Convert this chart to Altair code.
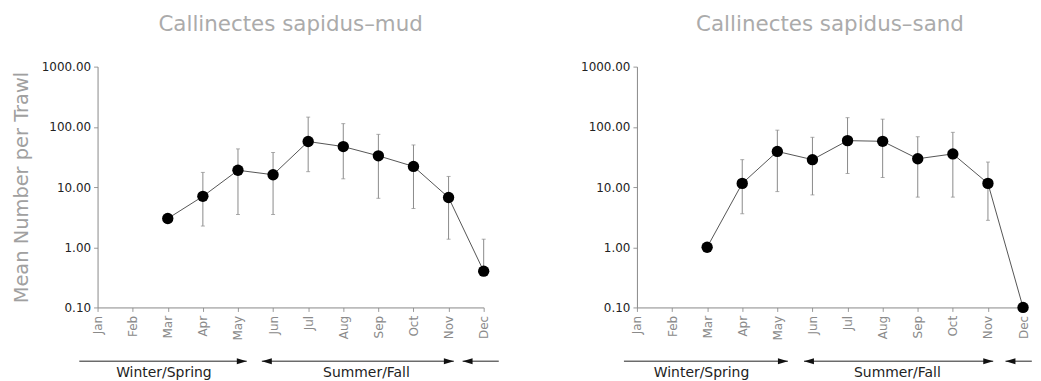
import altair as alt
import pandas as pd

months = ["Jan", "Feb", "Mar", "Apr", "May", "Jun", "Jul", "Aug", "Sep", "Oct", "Nov", "Dec"]
sampled = [2, 3, 4, 5, 6, 7, 8, 9, 10, 11]  # Mar..Dec (month index)

mud_mean = [3.0, 7.0, 19.0, 16.0, 57.0, 47.0, 33.0, 22.0, 6.7, 0.40]
mud_hi = [None, 17.5, 43.0, 37.5, 145.0, 113.0, 75.0, 50.0, 15.0, 1.36]
mud_lo = [None, 2.25, 3.5, 3.5, 18.0, 13.7, 6.5, 4.4, 1.36, 0.40]

sand_mean = [1.0, 11.5, 39.0, 28.5, 59.0, 57.5, 29.5, 35.5, 11.5, 0.10]
sand_hi = [None, 28.5, 88.0, 67.0, 142.0, 134.0, 68.5, 81.0, 26.0, None]
sand_lo = [None, 3.6, 8.4, 7.4, 16.8, 14.4, 6.8, 6.8, 2.8, None]

y_ticks = [0.1, 1, 10, 100, 1000]
month_ticks = list(range(12))

season_names = ["Winter/Spring", "Summer/Fall"]
# season arrow spans (in month-index units) per panel: start, end
mud_seg_start = [-0.52, 4.68, 10.40]
mud_seg_end = [4.25, 10.15, 11.43]
mud_label_pos = [1.89, 7.66]
sand_seg_start = [-0.37, 4.76, 10.50]
sand_seg_end = [4.30, 10.15, 11.25]
sand_label_pos = [1.84, 7.42]

FONT = "DejaVu Sans"
W, H = 388, 242
ARROW_Y = 296
LABEL_Y = 315

label_expr = "[" + ",".join("'%s'" % m for m in months) + "][datum.value]"
right_head = "M0,0L-2,-0.6L-2,0.6Z"
left_head = "M0,0L2,-0.6L2,0.6Z"


def panel(title, mean, hi, lo, seg_s, seg_e, lab_pos, show_ytitle):
    df = pd.DataFrame({"m": sampled, "mean": mean, "hi": hi, "lo": lo})
    xscale = alt.Scale(domain=[0, 11], nice=False, zero=False)
    yscale = alt.Scale(type="log", domain=[0.1, 1000], nice=False)
    xaxis = alt.Axis(values=month_ticks, labelExpr=label_expr, labelAngle=270,
                     labelFont=FONT, labelFontSize=12, labelColor="#8a8a8a",
                     labelOverlap=False, labelPadding=4, tickSize=4, tickColor="#999",
                     domainColor="#888", grid=False, title=None)
    yaxis_kw = dict(values=y_ticks, format=".2f", labelFont=FONT, labelFontSize=12,
                    labelColor="#222", labelPadding=3, tickSize=4, tickColor="#999",
                    domainColor="#888", grid=False, labelOverlap=False)
    if show_ytitle:
        yaxis = alt.Axis(title="Mean Number per Trawl", titleFont=FONT, titleFontSize=19.5,
                         titleFontWeight="normal", titleColor="#a0a0a0", titlePadding=10,
                         **yaxis_kw)
    else:
        yaxis = alt.Axis(title=None, **yaxis_kw)

    X = lambda f: alt.X(f, type="quantitative", scale=xscale, axis=xaxis)
    Y = lambda f: alt.Y(f, type="quantitative", scale=yscale, axis=yaxis)

    base = alt.Chart(df)
    line = base.mark_line(color="#555", strokeWidth=1).encode(x=X("m"), y=Y("mean"))
    err = base.mark_rule(color="#8a8a8a", strokeWidth=1).encode(
        x=X("m"), y=Y("lo"), y2="hi:Q")
    cap_hi = base.mark_tick(color="#8a8a8a", size=4, thickness=1, orient="horizontal").encode(
        x=X("m"), y=Y("hi"))
    cap_lo = base.mark_tick(color="#8a8a8a", size=4, thickness=1, orient="horizontal").encode(
        x=X("m"), y=Y("lo"))
    pts = base.mark_circle(size=130, color="#000", opacity=1).encode(x=X("m"), y=Y("mean"))

    seg = pd.DataFrame({"s": seg_s, "e": seg_e})
    seg_rule = alt.Chart(seg).mark_rule(color="#222", strokeWidth=1).encode(
        x=X("s"), x2="e:Q", y=alt.value(ARROW_Y))
    heads_r = alt.Chart(pd.DataFrame({"p": seg_e[:2]})).mark_point(
        shape=right_head, size=100, filled=True, color="#111", opacity=1, strokeWidth=0).encode(
        x=X("p"), y=alt.value(ARROW_Y))
    heads_l = alt.Chart(pd.DataFrame({"p": seg_s[1:]})).mark_point(
        shape=left_head, size=100, filled=True, color="#111", opacity=1, strokeWidth=0).encode(
        x=X("p"), y=alt.value(ARROW_Y))
    labs = alt.Chart(pd.DataFrame({"p": lab_pos, "t": season_names})).mark_text(
        font=FONT, fontSize=14, color="#222", baseline="bottom").encode(
        x=X("p"), y=alt.value(LABEL_Y), text="t:N")

    return alt.layer(line, err, cap_hi, cap_lo, pts, seg_rule, heads_r, heads_l, labs).properties(
        width=W, height=H,
        title=alt.TitleParams(title, font=FONT, fontSize=21.5, fontWeight="normal",
                              color="#ababab", anchor="middle", offset=25))


left = panel("Callinectes sapidus\u2013mud", mud_mean, mud_hi, mud_lo,
             mud_seg_start, mud_seg_end, mud_label_pos, True)
right = panel("Callinectes sapidus\u2013sand", sand_mean, sand_hi, sand_lo,
              sand_seg_start, sand_seg_end, sand_label_pos, False)

chart = alt.hconcat(left, right, spacing=81).properties(
    padding={"left": 3, "top": 5, "right": 0, "bottom": 0}
).configure_view(stroke=None)

chart.save("out.html", embed_options={"renderer": "svg", "actions": False})
